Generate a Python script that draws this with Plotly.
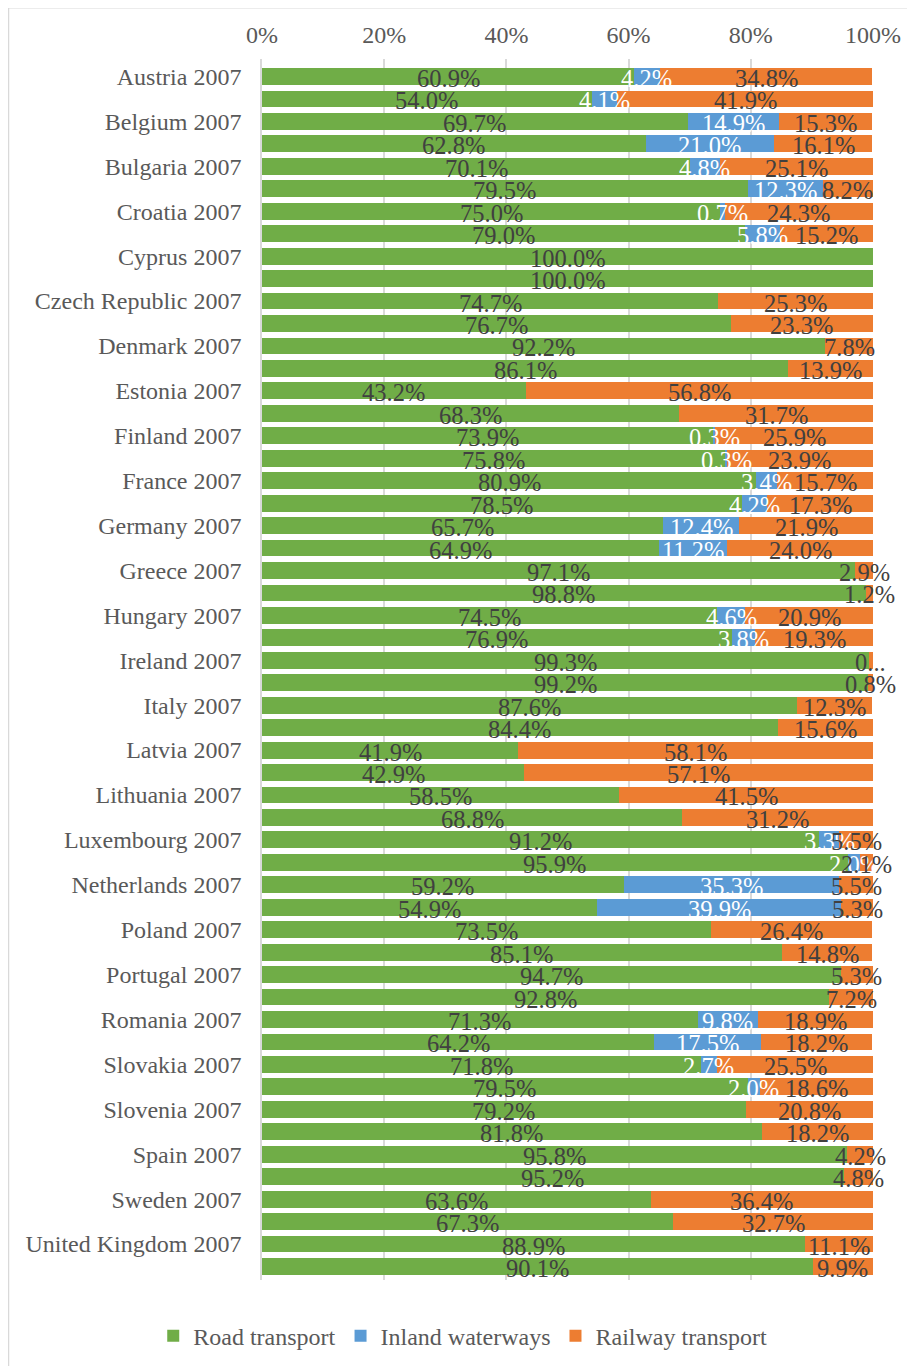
import plotly.graph_objects as go

countries = ["Austria", "Belgium", "Bulgaria", "Croatia", "Cyprus", "Czech Republic", "Denmark",
             "Estonia", "Finland", "France", "Germany", "Greece", "Hungary", "Ireland", "Italy",
             "Latvia", "Lithuania", "Luxembourg", "Netherlands", "Poland", "Portugal", "Romania",
             "Slovakia", "Slovenia", "Spain", "Sweden", "United Kingdom"]

# first row of each pair = 2007, second row = later year (unlabelled in the chart)
road_2007 = [60.9, 69.7, 70.1, 75.0, 100.0, 74.7, 92.2, 43.2, 73.9, 80.9, 65.7, 97.1, 74.5, 99.3,
             87.6, 41.9, 58.5, 91.2, 59.2, 73.5, 94.7, 71.3, 71.8, 79.2, 95.8, 63.6, 88.9]
inland_2007 = [4.2, 14.9, 4.8, 0.7, 0, 0, 0, 0, 0.3, 3.4, 12.4, 0, 4.6, 0,
               0, 0, 0, 3.3, 35.3, 0, 0, 9.8, 2.7, 0, 0, 0, 0]
rail_2007 = [34.8, 15.3, 25.1, 24.3, 0, 25.3, 7.8, 56.8, 25.9, 15.7, 21.9, 2.9, 20.9, 0.7,
             12.3, 58.1, 41.5, 5.5, 5.5, 26.4, 5.3, 18.9, 25.5, 20.8, 4.2, 36.4, 11.1]

road_later = [54.0, 62.8, 79.5, 79.0, 100.0, 76.7, 86.1, 68.3, 75.8, 78.5, 64.9, 98.8, 76.9, 99.2,
              84.4, 42.9, 68.8, 95.9, 54.9, 85.1, 92.8, 64.2, 79.5, 81.8, 95.2, 67.3, 90.1]
inland_later = [4.1, 21.0, 12.3, 5.8, 0, 0, 0, 0, 0.3, 4.2, 11.2, 0, 3.8, 0,
                0, 0, 0, 2.0, 39.9, 0, 0, 17.5, 2.0, 0, 0, 0, 0]
rail_later = [41.9, 16.1, 8.2, 15.2, 0, 23.3, 13.9, 31.7, 23.9, 17.3, 24.0, 1.2, 19.3, 0.8,
              15.6, 57.1, 31.2, 2.1, 5.3, 14.8, 7.2, 18.2, 18.6, 18.2, 4.8, 32.7, 9.9]

x_ticks = [0, 20, 40, 60, 80, 100]

series_names = ["Road transport", "Inland waterways", "Railway transport"]
colors = ["#70AD47", "#5B9BD5", "#ED7D31"]
label_colors = ["#404040", "#FFFFFF", "#404040"]

# labels Excel truncated
label_override = {("Ireland 2007", 2): "0..."}

rows, road, inland, rail = [], [], [], []
for i, c in enumerate(countries):
    rows += [c + " 2007", c + " later"]
    road += [road_2007[i], road_later[i]]
    inland += [inland_2007[i], inland_later[i]]
    rail += [rail_2007[i], rail_later[i]]

values = [road, inland, rail]
font = "Liberation Serif, Times New Roman, serif"

fig = go.Figure()
for name, vals, col in zip(series_names, values, colors):
    fig.add_trace(go.Bar(y=rows, x=vals, name=name, orientation="h",
                         marker=dict(color=col, line=dict(width=0))))

annotations = []
for r, row in enumerate(rows):
    left = 0
    for s in range(3):
        v = values[s][r]
        if v > 0:
            txt = label_override.get((row, s), "%.1f%%" % v)
            annotations.append(dict(x=left + v / 2, y=row, xref="x", yref="y", text=txt,
                                    showarrow=False, yshift=-2,
                                    font=dict(family=font, size=24.5, color=label_colors[s])))
        left += v

# outer chart border (only top-left corner is visible)
border = [dict(type="rect", xref="paper", yref="paper",
               x0=-0.4149, x1=2.0, y0=-1.0, y1=1.042,
               line=dict(color="#D9D9D9", width=1.5), fillcolor="rgba(0,0,0,0)", layer="below")]

fig.update_layout(
    barmode="stack",
    bargap=0.25,
    width=907, height=1358,
    margin=dict(l=254, r=42, t=51, b=86, autoexpand=False),
    paper_bgcolor="white", plot_bgcolor="white",
    font=dict(family=font, size=24, color="#595959"),
    annotations=annotations,
    shapes=border,
    legend=dict(orientation="h", x=-0.178, xanchor="left", y=-0.046, yanchor="middle",
                font=dict(family=font, size=24, color="#595959"), traceorder="normal"),
    xaxis=dict(side="top", range=[0, 100], tickmode="array", tickvals=x_ticks,
               ticktext=["%d%%" % t for t in x_ticks],
               showgrid=True, gridcolor="#D9D9D9", gridwidth=1.5, zeroline=False,
               showline=False, ticks="", ticklabelstandoff=10,
               tickfont=dict(family=font, size=24, color="#595959")),
    yaxis=dict(autorange="reversed", categoryorder="array", categoryarray=rows,
               tickmode="array", tickvals=rows[0::2], ticktext=rows[0::2], ticks="",
               showline=True, linecolor="#D9D9D9", linewidth=1.5,
               tickfont=dict(family=font, size=24, color="#595959"), ticklabelstandoff=14),
)

fig.write_html("out.html")
